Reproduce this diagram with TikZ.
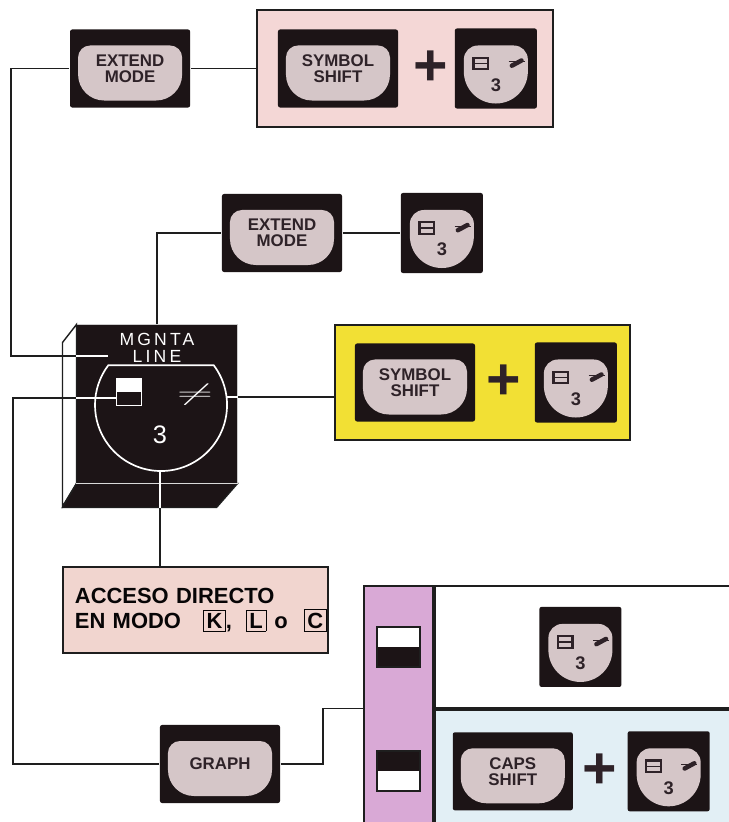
\documentclass[tikz,border=0pt]{standalone}
\usepackage{fontspec}
\setmainfont{Liberation Sans}
\newfontfamily\widesans[LetterSpace=18]{Liberation Sans}
\usepackage{tikz}
\usetikzlibrary{positioning}

\definecolor{keyblack}{HTML}{1C1416}
\definecolor{capgrey}{HTML}{D5C6C8}
\definecolor{captext}{HTML}{2E2228}
\definecolor{linecol}{HTML}{1E1E1E}
\definecolor{pinkfill}{HTML}{F4D7D6}
\definecolor{yellowfill}{HTML}{F2E034}
\definecolor{accpink}{HTML}{F1D5CF}
\definecolor{tabmag}{HTML}{D9A9D6}
\definecolor{tabblue}{HTML}{E2EFF5}

\newcommand{\keyfont}{\fontsize{12}{11.5}\selectfont\bfseries}
\newcommand{\modebox}[1]{{\setlength{\fboxsep}{2pt}\setlength{\fboxrule}{0.5pt}\fbox{#1}}}

\begin{document}
\begin{tikzpicture}[x=0.025cm, y=-0.025cm, line width=1.3pt, node distance=1.5cm,
    keywide/.style={rectangle, fill=keyblack, rounded corners=1.5pt, minimum width=3cm, minimum height=1.95cm, inner sep=0pt, align=center, text=captext, font=\keyfont,
        path picture={\coordinate (kc) at (path picture bounding box.center);
            \fill[capgrey, sharp corners] ([shift={(-1cm,0.575cm)}]kc) -- ([shift={(1cm,0.575cm)}]kc) arc[start angle=90, end angle=0, radius=0.3cm] -- ([shift={(1.3cm,-0.15cm)}]kc) arc[start angle=0, end angle=-90, radius=0.65cm] -- ([shift={(-0.65cm,-0.8cm)}]kc) arc[start angle=-90, end angle=-180, radius=0.65cm] -- ([shift={(-1.3cm,0.275cm)}]kc) arc[start angle=180, end angle=90, radius=0.3cm] -- cycle;}},
    keynum/.style={rectangle, fill=keyblack, rounded corners=1.5pt, minimum width=2.05cm, minimum height=2cm, inner sep=0pt, text=captext, font=\fontsize{13}{13}\selectfont\bfseries, text height=1.14cm, text depth=0pt,
        path picture={\coordinate (kc) at (path picture bounding box.center);
            \fill[capgrey, sharp corners] ([shift={(-0.45cm,0.575cm)}]kc) -- ([shift={(0.45cm,0.575cm)}]kc) arc[start angle=90, end angle=0, radius=0.35cm] -- ([shift={(0.8cm,-0.075cm)}]kc) arc[start angle=0, end angle=-180, radius=0.8cm] -- ([shift={(-0.8cm,0.225cm)}]kc) arc[start angle=180, end angle=90, radius=0.35cm] -- cycle;
            \draw[captext, line width=1.6pt, sharp corners] ([shift={(-0.56cm,-0.02cm)}]kc) rectangle ([shift={(-0.2cm,0.27cm)}]kc);
            \draw[captext, line width=1pt] ([shift={(-0.56cm,0.125cm)}]kc) -- ([shift={(-0.2cm,0.125cm)}]kc);
            \draw[captext, line width=3.2pt, line cap=round] ([shift={(0.4cm,0.07cm)}]kc) -- ([shift={(0.64cm,0.2cm)}]kc);
            \draw[captext, line width=0.7pt] ([shift={(0.32cm,0.17cm)}]kc) -- ([shift={(0.72cm,0.17cm)}]kc);}},
    plussign/.style={inner sep=0pt, text=captext, font=\fontsize{42}{42}\selectfont\bfseries},
    sqlow/.style={rectangle, draw=linecol, fill=white, inner sep=0pt,
        path picture={\fill[keyblack] (path picture bounding box.west) rectangle (path picture bounding box.south east);}},
    sqhigh/.style={rectangle, draw=linecol, fill=white, inner sep=0pt,
        path picture={\fill[keyblack] (path picture bounding box.north west) rectangle (path picture bounding box.east);}}]
    \path[use as bounding box, fill=white] (0,0) rectangle (729,822);

    % Top: Extend mode then Symbol shift + 3
    \node (pinkA) [draw=linecol, rectangle, minimum width=7.4cm, minimum height=2.925cm, fill=pinkfill] at (405,68.5) {};
    \node (symA) [keywide, right=0.525cm of pinkA.west] {SYMBOL\\SHIFT};
    \node (plusA) [plussign, right=0.35cm of symA] {+};
    \node (threeA) [keynum, right=1.375cm of symA] {3};
    \node (extA) [keywide, left=1.625cm of pinkA] {EXTEND\\MODE};

    % Middle: Extend mode then 3
    \node (extB) [keywide] at (282,233) {EXTEND\\MODE};
    \node (threeB) [keynum, right=1.425cm of extB] {3};

    % Yellow: Symbol shift + 3
    \node (yellowC) [draw=linecol, rectangle, minimum width=7.375cm, minimum height=2.875cm, fill=yellowfill] at (482.5,382.5) {};
    \node (symC) [keywide, right=0.5cm of yellowC.west] {SYMBOL\\SHIFT};
    \node (plusC) [plussign, right=0.25cm of symC] {+};
    \node (threeC) [keynum, right=1.45cm of symC] {3};

    % The key itself
    \node (cube) [rectangle, fill=keyblack, draw=white!60!gray, line width=0.7pt, minimum width=4cm, minimum height=3.95cm] at (157,404) {};
    \filldraw[fill=white, draw=linecol, line width=1pt] (cube.north west) -- ++(-14,18) -- ++(0,164) -- (cube.south west) -- cycle;
    \filldraw[fill=keyblack, draw=linecol, line width=1pt] (cube.south west) -- ++(-14,24) -- ++(154,0) -- (cube.south east) -- cycle;
    \draw[white!70!gray, line width=0.7pt] (cube.south west) -- (cube.south east);
    \draw[white, line width=1.2pt] ([shift={(1.418cm,0.968cm)}]cube.center) arc[start angle=37, end angle=-217, radius=1.65cm] -- cycle;
    \node (cubetxt) [text=white, font=\widesans\fontsize{12.5}{12}\selectfont, align=center, inner sep=0pt] at ([yshift=-0.58cm]cube.north) {MGNTA\\LINE};
    \node (cubesq) [sqlow, draw=white, line width=0.8pt, minimum width=0.625cm, minimum height=0.675cm] at ([shift={(-0.69cm,0.31cm)}]cube.center) {};
    \node (cubehash) [text=white, font=\fontsize{20}{20}\selectfont, inner sep=1pt] at ([shift={(0.95cm,0.225cm)}]cube.center) {\scalebox{1.7}[0.8]{$\neq$}};
    \node (cubenum) [text=white, font=\fontsize{18}{18}\selectfont, inner sep=0pt] at ([shift={(0.075cm,-0.775cm)}]cube.center) {3};
    \coordinate (mgnta) at ([shift={(-1.225cm,1.2cm)}]cube.center);
    \coordinate (blockL) at ([shift={(-1.0cm,0.15cm)}]cube.center);
    \coordinate (hashR) at ([shift={(1.75cm,0.175cm)}]cube.center);
    \coordinate (circS) at ([shift={(0.075cm,-1.675cm)}]cube.center);

    % Direct access box
    \node (acceso) [draw=linecol, rectangle, fill=accpink, minimum width=6.625cm, minimum height=2.15cm, text width=6.025cm, align=left, inner sep=0.3cm, font=\fontsize{15.6}{17.8}\selectfont\bfseries, text=black!85!captext] at (195.5,610) {ACCESO DIRECTO\\\mbox{EN MODO\hspace{0.55cm}\modebox{K},\hspace{0.35cm}\modebox{L}\hspace{0.2cm}o\hspace{0.4cm}\modebox{C}}};

    % Graph table
    \node (tabcol) [draw=linecol, rectangle, fill=tabmag, minimum width=1.725cm, minimum height=6.125cm, anchor=north west] at (363,585) {};
    \node (rowtop) [draw=linecol, rectangle, fill=white, minimum width=7.7cm, minimum height=3.05cm, anchor=north west] at (tabcol.north east) {};
    \node (rowbot) [draw=linecol, rectangle, fill=tabblue, minimum width=7.7cm, minimum height=3.075cm, anchor=north west] at (rowtop.south west) {};
    \node (sqtop) [sqlow, minimum width=1.075cm, minimum height=1cm] at (tabcol |- rowtop) {};
    \node (sqbot) [sqhigh, minimum width=1.075cm, minimum height=1cm] at (tabcol |- rowbot) {};
    \node (threeD) [keynum] at ([xshift=-0.21cm]rowtop.center) {3};
    \node (capsD) [keywide, right=0.45cm of rowbot.west] {CAPS\\SHIFT};
    \node (plusD) [plussign, right=0.2cm of capsD] {+};
    \node (threeE) [keynum, right=1.325cm of capsD] {3};

    % Graph key
    \node (graph) [keywide] at (220,764) {GRAPH};

    % Connectors
    \draw[linecol] (extA) -- (pinkA);
    \draw[linecol] (extA.west) -- ++(-58,0) |- (mgnta);
    \draw[linecol] (cube.north) |- (extB);
    \draw[linecol] (extB) -- (threeB);
    \draw[linecol] (hashR) -- (hashR -| yellowC.west);
    \draw[linecol] (blockL) -- ++(-104,0) |- (graph);
    \draw[linecol] (circS) -- (circS |- acceso.north);
    \draw[linecol] (graph) -- ++(103,0) |- (tabcol.west);
    % inside the key the lines show white
    \draw[white, line width=1pt] (mgnta) -- (mgnta -| cube.west);
    \draw[white, line width=1pt] (blockL) -- (blockL -| cube.west);
    \draw[white, line width=1pt] (hashR) -- (hashR -| cube.east);
    \draw[white, line width=1pt] (circS) -- ([yshift=-0.6cm]circS |- cube.south);
\end{tikzpicture}
\end{document}
